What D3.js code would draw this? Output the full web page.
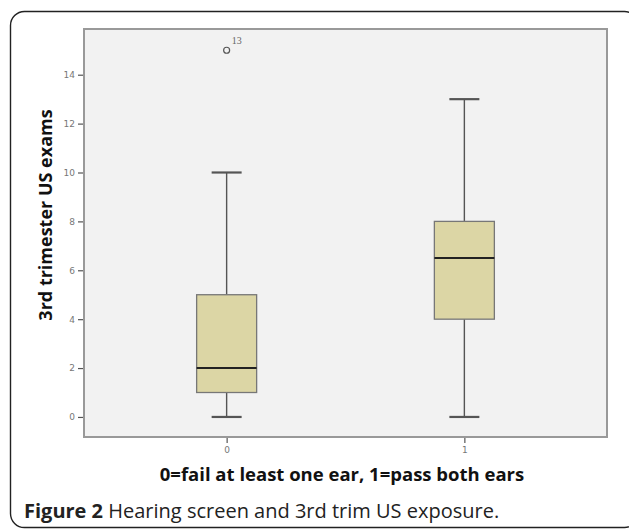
<!DOCTYPE html>
<html>
<head>
<meta charset="utf-8">
<script src="https://cdn.jsdelivr.net/npm/d3@7"></script>
<style>
html,body{margin:0;padding:0;background:#fff;}
svg{display:block;}
</style>
</head>
<body>
<svg id="chart" width="629" height="530"></svg>
<script>
const categories = ["0", "1"];
const whiskerLow = [0, 0];
const q1 = [1, 4];
const medians = [2, 6.5];
const q3 = [5, 8];
const whiskerHigh = [10, 13];
const outlierCategory = ["0"];
const outlierValue = [15];
const outlierLabel = ["13"];
const yTicks = [0, 2, 4, 6, 8, 10, 12, 14];
const yTitle = "3rd trimester US exams";
const xTitle = "0=fail at least one ear, 1=pass both ears";
const captionBold = "Figure 2";
const captionText = " Hearing screen and 3rd trim US exposure.";

const svg = d3.select("#chart");

// outer frame
svg.append("rect")
  .attr("x", 10.5).attr("y", 11.5)
  .attr("width", 628).attr("height", 516)
  .attr("rx", 14).attr("ry", 14)
  .attr("fill", "#fff").attr("stroke", "#222").attr("stroke-width", 1.4);

const plot = {left: 84, top: 29, right: 607, bottom: 437};

const y = d3.scaleLinear().domain([-0.82, 15.87]).range([plot.bottom, plot.top]);
const x = d3.scalePoint().domain(categories).range([plot.left, plot.right]).padding(0.6);

svg.append("rect")
  .attr("x", plot.left).attr("y", plot.top)
  .attr("width", plot.right - plot.left).attr("height", plot.bottom - plot.top)
  .attr("fill", "#f2f2f2").attr("stroke", "#999").attr("stroke-width", 2);

// y axis
const yAxis = d3.axisLeft(y).tickValues(yTicks).tickSize(5).tickPadding(3);
const gy = svg.append("g").attr("transform", `translate(${plot.left - 1},0)`).call(yAxis);
gy.select(".domain").remove();
gy.selectAll(".tick line").attr("stroke", "#555").attr("stroke-width", 1.2);
gy.selectAll(".tick text").attr("fill", "#777").attr("font-family", "DejaVu Sans, sans-serif").attr("font-size", 9);

// x axis
const xAxis = d3.axisBottom(x).tickSize(5).tickPadding(4);
const gx = svg.append("g").attr("transform", `translate(0,${plot.bottom + 1})`).call(xAxis);
gx.select(".domain").remove();
gx.selectAll(".tick line").attr("stroke", "#555").attr("stroke-width", 1.2);
gx.selectAll(".tick text").attr("fill", "#777").attr("font-family", "DejaVu Sans, sans-serif").attr("font-size", 9);

const boxW = 60, capW = 30;
const data = categories.map((c, i) => ({c, lo: whiskerLow[i], q1: q1[i], med: medians[i], q3: q3[i], hi: whiskerHigh[i]}));

const g = svg.append("g");
data.forEach(d => {
  const cx = x(d.c);
  g.append("line").attr("x1", cx).attr("x2", cx).attr("y1", y(d.hi)).attr("y2", y(d.q3))
    .attr("stroke", "#555").attr("stroke-width", 1.4);
  g.append("line").attr("x1", cx).attr("x2", cx).attr("y1", y(d.q1)).attr("y2", y(d.lo))
    .attr("stroke", "#555").attr("stroke-width", 1.4);
  g.append("line").attr("x1", cx - capW/2).attr("x2", cx + capW/2).attr("y1", y(d.hi)).attr("y2", y(d.hi))
    .attr("stroke", "#555").attr("stroke-width", 2.2);
  g.append("line").attr("x1", cx - capW/2).attr("x2", cx + capW/2).attr("y1", y(d.lo)).attr("y2", y(d.lo))
    .attr("stroke", "#555").attr("stroke-width", 2.2);
  g.append("rect").attr("x", cx - boxW/2).attr("y", y(d.q3))
    .attr("width", boxW).attr("height", y(d.q1) - y(d.q3))
    .attr("fill", "#dcd6a5").attr("stroke", "#777").attr("stroke-width", 1.3);
  g.append("line").attr("x1", cx - boxW/2).attr("x2", cx + boxW/2).attr("y1", y(d.med)).attr("y2", y(d.med))
    .attr("stroke", "#222").attr("stroke-width", 2);
});

outlierValue.forEach((v, i) => {
  const cx = x(outlierCategory[i]), cy = y(v);
  g.append("circle").attr("cx", cx).attr("cy", cy).attr("r", 3)
    .attr("fill", "none").attr("stroke", "#555").attr("stroke-width", 1.2);
  g.append("text").attr("x", cx + 5).attr("y", cy - 6).text(outlierLabel[i])
    .attr("fill", "#666").attr("font-family", "Liberation Serif, serif").attr("font-size", 10);
});

// titles
svg.append("text")
  .attr("transform", `translate(52,215) rotate(-90)`)
  .attr("text-anchor", "middle")
  .attr("font-family", "Open Sans, sans-serif").attr("font-weight", "bold").attr("font-size", 18)
  .attr("fill", "#111").text(yTitle);

svg.append("text")
  .attr("x", 342).attr("y", 481)
  .attr("text-anchor", "middle")
  .attr("font-family", "Open Sans, sans-serif").attr("font-weight", "bold").attr("font-size", 18.5)
  .attr("fill", "#111").text(xTitle);

const cap = svg.append("text")
  .attr("x", 24).attr("y", 518)
  .attr("font-family", "Open Sans, sans-serif").attr("font-size", 20)
  .attr("fill", "#222");
cap.append("tspan").attr("font-weight", "bold").text(captionBold);
cap.append("tspan").text(captionText);
</script>
</body>
</html>
